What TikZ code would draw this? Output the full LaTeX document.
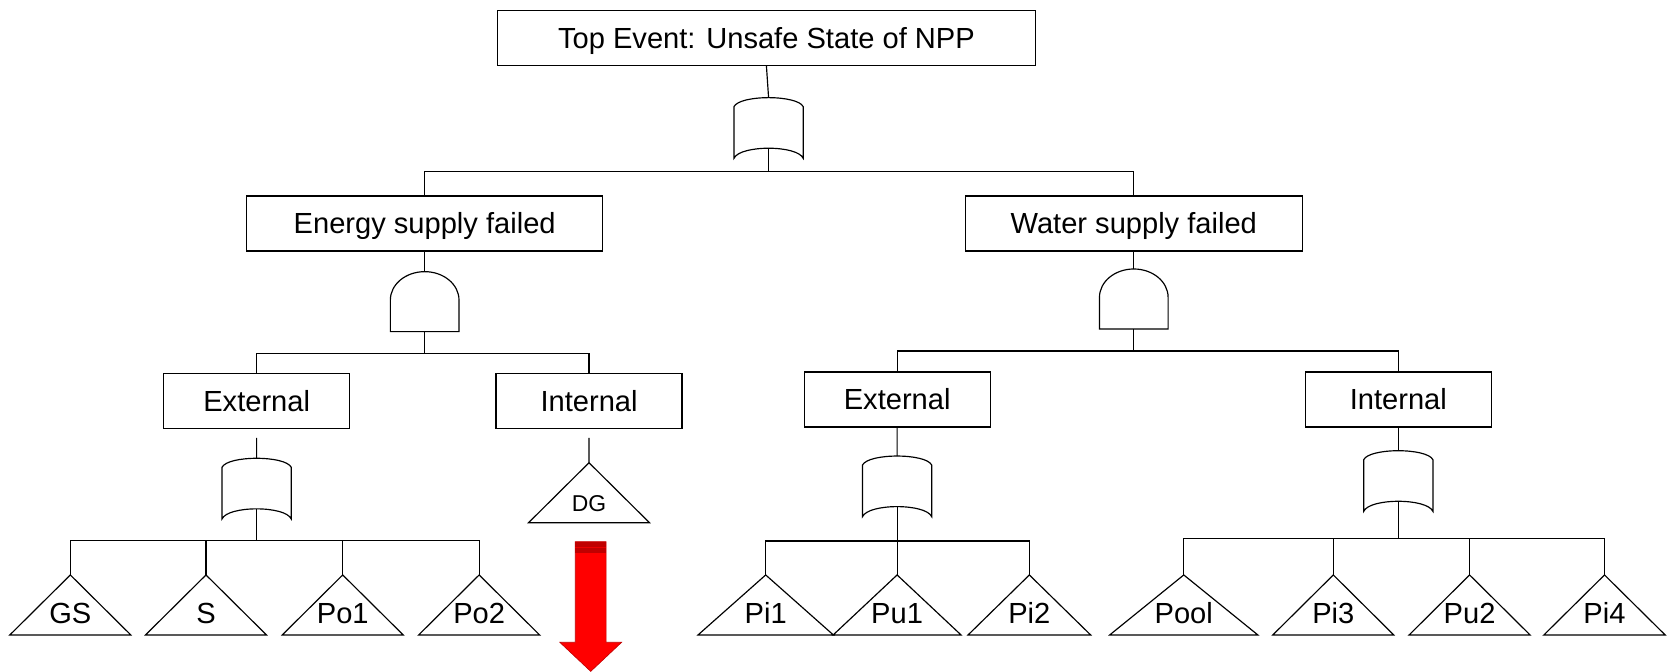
\documentclass[tikz,border=0pt]{standalone}
\usepackage{fontspec}
\setmainfont{Liberation Sans}
\definecolor{arrowred}{HTML}{FF0000}
\definecolor{arrowdark}{HTML}{C00000}
\begin{document}
\begin{tikzpicture}[x=1pt,y=-1pt,
  wire/.style={line width=1.1pt, black},
  evbox/.style={draw, line width=1.2pt, minimum height=51.5pt, inner sep=0pt,
    text height=19.5pt, text depth=0pt, font=\fontsize{27.3}{32}\selectfont},
  smallbox/.style={evbox, minimum width=174.5pt},
  pics/orgate/.style={code={
    \draw[wire] (-32.5,8.5) .. controls (-27,-2.8) and (27,-2.8) .. (32.5,8.5)
      -- (32.5,57) .. controls (27,44.3) and (-27,44.3) .. (-32.5,57) -- cycle;
    \coordinate (-in) at (0,0);
    \coordinate (-out) at (0,47.5);
  }},
  pics/andgate/.style={code={
    \draw[wire] (-32.2,56.3) -- (-32.2,26.6) .. controls (-32.2,11.9) and (-17.8,0) .. (0,0)
      .. controls (17.8,0) and (32.2,11.9) .. (32.2,26.6) -- (32.2,56.3) -- cycle;
    \coordinate (-in) at (0,0);
    \coordinate (-out) at (0,56.3);
  }},
  pics/basicev/.style n args={3}{code={
    \draw[wire] (0,0) -- (#2/2,56.3) -- (-#2/2,56.3) -- cycle;
    \coordinate (-top) at (0,0);
    \node[anchor=base, inner sep=0pt, font=\fontsize{#3}{#3}\selectfont] (-lbl) at (0,45.4) {#1};
  }},
]
\useasboundingbox (0,0) rectangle (1568,630);

% event boxes
\node[evbox, minimum width=504.8pt] (top) at (719.2,35.75) {Top Event: Unsafe State of NPP};
\node[evbox, minimum width=334pt] (esf) at (398.5,209.75) {Energy supply failed};
\node[evbox, minimum width=316.2pt] (wsf) at (1063.9,209.75) {Water supply failed};
\node[smallbox] (lext) at (240.85,376.5) {External};
\node[smallbox] (lint) at (552.75,376.5) {Internal};
\node[smallbox] (rext) at (841.85,374.85) {External};
\node[smallbox] (rint) at (1312.1,374.85) {Internal};

% gates
\pic (g0) at (721.2,91.6) {orgate};
\pic (gE) at (398.5,254.9) {andgate};
\pic (gW) at (1063.9,252.4) {andgate};
\pic (gLE) at (240.8,430) {orgate};
\pic (gRE) at (841.8,427.9) {orgate};
\pic (gRI) at (1312.1,422.9) {orgate};

% basic events
\pic (gs)  at (66,539.5)    {basicev={GS}{113.5}{27.3}};
\pic (s)   at (193.3,539.5) {basicev={S}{113.5}{27.3}};
\pic (po1) at (321.6,539.5) {basicev={Po1}{113.5}{27.3}};
\pic (po2) at (449.6,539.5) {basicev={Po2}{113.5}{27.3}};
\pic (dg)  at (552.7,434.2) {basicev={DG}{113.5}{21.5}};
\pic (pi1) at (718.5,539.5) {basicev={Pi1}{127}{27.3}};
\pic (pu1) at (841.8,539.5) {basicev={Pu1}{120}{27.3}};
\pic (pi2) at (965.9,539.5) {basicev={Pi2}{115}{27.3}};
\pic (pool) at (1110.8,539.5) {basicev={Pool}{139}{27.3}};
\pic (pi3) at (1251.1,539.5) {basicev={Pi3}{113.5}{27.3}};
\pic (pu2) at (1379,539.5)   {basicev={Pu2}{113.5}{27.3}};
\pic (pi4) at (1505.6,539.5) {basicev={Pi4}{113.8}{27.3}};

% branch points
\coordinate (bus0)  at (721.2,161);
\coordinate (busE)  at (398.5,332);
\coordinate (busW)  at (1063.9,329.4);
\coordinate (busLE) at (240.8,507.5);
\coordinate (busRE) at (841.8,507.6);
\coordinate (busRI) at (1312.1,505.1);

% connectors
\draw[wire] (top.south) -- (g0-in);
\draw[wire] (g0-out) -- (bus0);
\draw[wire] (esf.north) |- (bus0);
\draw[wire] (wsf.north) |- (bus0);

\draw[wire] (esf.south) -- (gE-in);
\draw[wire] (gE-out) -- (busE);
\draw[wire] (lext.north) |- (busE);
\draw[wire] (lint.north) |- (busE);

\draw[wire] (wsf.south) -- (gW-in);
\draw[wire] (gW-out) -- (busW);
\draw[wire] (rext.north) |- (busW);
\draw[wire] (rint.north) |- (busW);

\draw[wire, shorten <=8pt] (lext.south) -- (gLE-in);
\draw[wire, shorten <=8pt] (lint.south) -- (dg-top);
\draw[wire] (gLE-out) -- (busLE);
\draw[wire] (gs-top) |- (busLE);
\draw[wire] (s-top) |- (busLE);
\draw[wire] (po1-top) |- (busLE);
\draw[wire] (po2-top) |- (busLE);

\draw[wire] (rext.south) -- (gRE-in);
\draw[wire] (gRE-out) -- (busRE);
\draw[wire] (pi1-top) |- (busRE);
\draw[wire] (pu1-top) -- (busRE);
\draw[wire] (pi2-top) |- (busRE);

\draw[wire] (rint.south) -- (gRI-in);
\draw[wire] (gRI-out) -- (busRI);
\draw[wire] (pool-top) |- (busRI);
\draw[wire] (pi3-top) |- (busRI);
\draw[wire] (pu2-top) |- (busRI);
\draw[wire] (pi4-top) |- (busRI);

% red block arrow below the diesel generator
\filldraw[fill=arrowred, draw=arrowdark, line width=0.6pt]
  (539.8,508.3) -- (568.8,508.3) -- (568.8,602.7) -- (583.3,602.7) -- (554.3,630)
  -- (525.3,602.7) -- (539.8,602.7) -- cycle;
\fill[arrowdark] (539.8,508.3) rectangle (568.8,518.5);
\draw[arrowred!70!arrowdark, line width=0.5pt] (539.8,513.4) -- (568.8,513.4);
\end{tikzpicture}
\end{document}
